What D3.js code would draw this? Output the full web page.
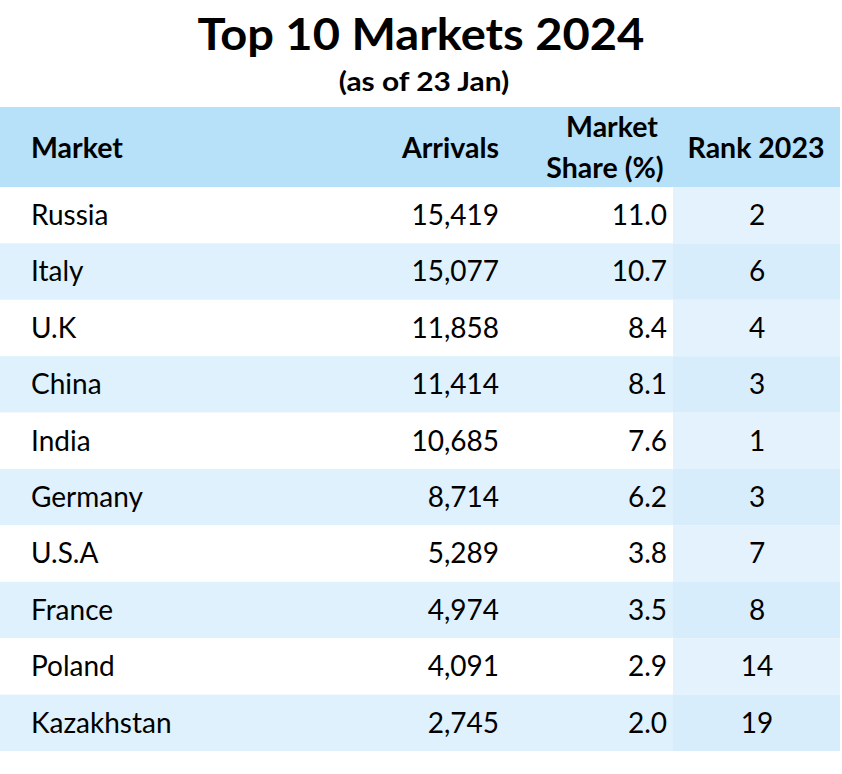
<!DOCTYPE html>
<html><head><meta charset="utf-8">
<script src="https://cdn.jsdelivr.net/npm/d3@7"></script>
<style>body{margin:0;background:#fff;} text{font-family:Lato, "Open Sans", sans-serif;}</style>
</head><body><svg id="c" width="842" height="774"></svg>
<script>
const markets = ["Russia","Italy","U.K","China","India","Germany","U.S.A","France","Poland","Kazakhstan"];
const arrivals = [15419,15077,11858,11414,10685,8714,5289,4974,4091,2745];
const shares = [11.0,10.7,8.4,8.1,7.6,6.2,3.8,3.5,2.9,2.0];
const rank2023 = [2,6,4,3,1,3,7,8,14,19];
const title = "Top 10 Markets 2024";
const subtitle = "(as of 23 Jan)";

const svg = d3.select("#c");
const tableX0 = 0, tableX1 = 840;
const headTop = 107, headBot = 187, rowsBot = 751;
const y = d3.scaleBand().domain(d3.range(markets.length)).range([headBot, rowsBot]).padding(0);

svg.append("text").attr("transform","translate(421,50) scale(1.095,1)").attr("text-anchor","middle")
  .attr("font-size",43).attr("font-weight",700).attr("fill","#000").text(title);
svg.append("text").attr("transform","translate(424,91) scale(1.15,1)").attr("text-anchor","middle")
  .attr("font-size",26).attr("font-weight",700).attr("fill","#000").text(subtitle);

// header band
svg.append("rect").attr("x",tableX0).attr("y",headTop).attr("width",tableX1-tableX0).attr("height",headBot-headTop).attr("fill","#b6e1f9");

const rankX0 = 673;
const rows = svg.selectAll("g.row").data(markets).join("g").attr("class","row");
rows.append("rect").attr("x",tableX0).attr("y",(d,i)=>y(i)).attr("width",rankX0-tableX0).attr("height",y.bandwidth())
  .attr("fill",(d,i)=> i%2===0 ? "#ffffff" : "#def1fc");
rows.append("rect").attr("x",rankX0).attr("y",(d,i)=>y(i)).attr("width",tableX1-rankX0).attr("height",y.bandwidth())
  .attr("fill",(d,i)=> i%2===0 ? "#e3f2fc" : "#d8edfb");

const fs = 28, base = 38;
const fmt = d3.format(",");
rows.append("text").attr("x",31).attr("y",(d,i)=>y(i)+base).attr("font-size",fs).attr("fill","#000").text(d=>d);
rows.append("text").attr("x",499).attr("y",(d,i)=>y(i)+base).attr("font-size",fs).attr("text-anchor","end").attr("fill","#000").text((d,i)=>fmt(arrivals[i]));
rows.append("text").attr("x",667).attr("y",(d,i)=>y(i)+base).attr("font-size",fs).attr("text-anchor","end").attr("fill","#000").text((d,i)=>shares[i].toFixed(1));
rows.append("text").attr("x",757).attr("y",(d,i)=>y(i)+base).attr("font-size",fs).attr("text-anchor","middle").attr("fill","#000").text((d,i)=>rank2023[i]);

// header labels
const hf = 28.5;
const hdr = svg.append("g").attr("font-weight",700).attr("font-size",hf).attr("fill","#000");
hdr.append("text").attr("x",31).attr("y",158).text("Market");
hdr.append("text").attr("x",499).attr("y",158).attr("text-anchor","end").text("Arrivals");
hdr.append("text").attr("x",612).attr("y",137).attr("text-anchor","middle").text("Market");
hdr.append("text").attr("x",605).attr("y",178).attr("text-anchor","middle").text("Share (%)");
hdr.append("text").attr("x",756).attr("y",158).attr("text-anchor","middle").text("Rank 2023");
</script></body></html>
